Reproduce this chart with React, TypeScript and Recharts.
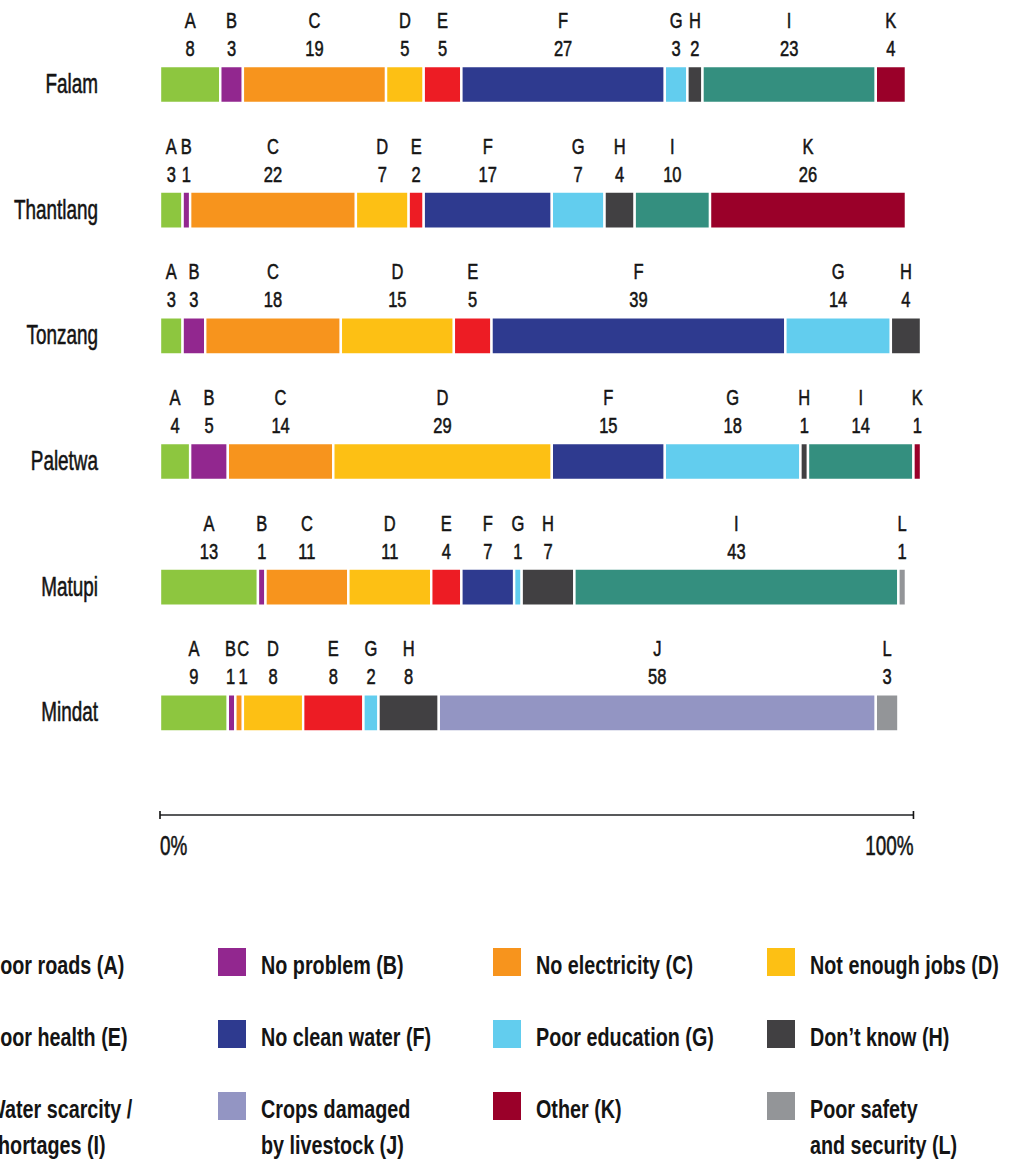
import { BarChart, Bar, XAxis, YAxis, LabelList } from 'recharts';

// --- data -------------------------------------------------------------
const DISTRICTS = ['Falam', 'Thantlang', 'Tonzang', 'Paletwa', 'Matupi', 'Mindat'];
const KEYS = ['A', 'B', 'C', 'D', 'E', 'F', 'G', 'H', 'I', 'J', 'K', 'L'];

// value per district, in DISTRICTS order (null = not mentioned)
const A = [8, 3, 3, 4, 13, 9];
const B = [3, 1, 3, 5, 1, 1];
const C = [19, 22, 18, 14, 11, 1];
const D = [5, 7, 15, 29, 11, 8];
const E = [5, 2, 5, null, 4, 8];
const F = [27, 17, 39, 15, 7, null];
const G = [3, 7, 14, 18, 1, 2];
const H = [2, 4, 4, 1, 7, 8];
const I = [23, 10, null, 14, 43, null];
const J = [null, null, null, null, null, 58];
const K = [4, 26, null, 1, null, null];
const L = [null, null, null, null, 1, 3];

const SERIES: Record<string, (number | null)[]> = { A, B, C, D, E, F, G, H, I, J, K, L };

const COLORS: Record<string, string> = {
  A: '#8dc63f', B: '#92278f', C: '#f7941d', D: '#fdc014',
  E: '#ed1c24', F: '#2e3a8f', G: '#62cdee', H: '#414042',
  I: '#348f7f', J: '#9395c3', K: '#9a0029', L: '#939598',
};

const LEGEND_LABELS: Record<string, string[]> = {
  A: ['Poor roads (A)'],
  B: ['No problem (B)'],
  C: ['No electricity (C)'],
  D: ['Not enough jobs (D)'],
  E: ['Poor health (E)'],
  F: ['No clean water (F)'],
  G: ['Poor education (G)'],
  H: ['Don\u2019t know (H)'],
  I: ['Water scarcity /', 'shortages (I)'],
  J: ['Crops damaged', 'by livestock (J)'],
  K: ['Other (K)'],
  L: ['Poor safety', 'and security (L)'],
};

const AXIS_TICKS = [0, 100];
const X_MAX = 101;

// --- layout -----------------------------------------------------------
const W = 1009;
const CHART_H = 880;
const MARGIN = { top: 22, right: 88, bottom: 15, left: 20 };
const Y_AXIS_W = 140;
const X_TICK_MARGIN = 20;
const FONT = "'Liberation Sans', Arial, sans-serif";
const INK = '#141414';

// labels on very thin neighbouring segments are pushed apart a little
const LABEL_NUDGE: Record<string, number> = { 'Mindat:B': -1, 'Mindat:C': 4 };

const rows = DISTRICTS.map((district, i) => {
  const row: Record<string, string | number | null> = { district };
  KEYS.forEach((k) => { row[k] = SERIES[k][i]; });
  return row;
});

const plotW = W - MARGIN.left - Y_AXIS_W - MARGIN.right;
const axisDash = `${(plotW * 100) / X_MAX} ${W}`;

// condensed look: squeeze Liberation Sans horizontally around its anchor,
// with a hairline stroke to get closer to the medium weight of the original
function NarrowText({ x, y, size, sx, anchor, children }: {
  x: number; y: number; size: number; sx: number; anchor: 'start' | 'middle' | 'end'; children: React.ReactNode;
}) {
  return (
    <text
      transform={`translate(${x} ${y}) scale(${sx} 1)`}
      textAnchor={anchor}
      fill={INK}
      stroke={INK}
      strokeWidth={0.55}
      fontFamily={FONT}
      fontSize={size}
    >
      {children}
    </text>
  );
}

// eslint-disable-next-line @typescript-eslint/no-explicit-any
function DistrictTick({ x, y, payload }: any) {
  return <NarrowText x={x} y={y + 8} size={27} sx={0.7} anchor="end">{payload.value}</NarrowText>;
}

// eslint-disable-next-line @typescript-eslint/no-explicit-any
function PercentTick({ x, y, payload }: any) {
  const axisY = y - X_TICK_MARGIN;
  return (
    <g>
      <line x1={x} x2={x} y1={axisY - 4} y2={axisY + 4} stroke="#111" strokeWidth={1.6} />
      <NarrowText x={x} y={axisY + 40} size={27} sx={0.7} anchor={payload.value === 0 ? 'start' : 'end'}>
        {payload.value}%
      </NarrowText>
    </g>
  );
}

const makeLabel = (key: string) =>
  // eslint-disable-next-line @typescript-eslint/no-explicit-any
  (props: any) => {
    const { value, index } = props;
    if (value == null || value === 0) return null;
    const x = props.x ?? props.viewBox?.x;
    const y = props.y ?? props.viewBox?.y;
    const w = props.width ?? props.viewBox?.width;
    const nudge = LABEL_NUDGE[`${DISTRICTS[index]}:${key}`] ?? 0;
    const cx = x + w / 2 + nudge;
    return (
      <g>
        <NarrowText x={cx} y={y - 38} size={22} sx={0.75} anchor="middle">{key}</NarrowText>
        <NarrowText x={cx} y={y - 10} size={22} sx={0.75} anchor="middle">{value}</NarrowText>
      </g>
    );
  };

function LegendBlock() {
  return (
    <>
      {KEYS.map((k, i) => {
        const col = i % 4;
        const row = Math.floor(i / 4);
        const left = -56 + col * 274.3;
        const top = 948 + row * 72;
        return (
          <div key={k} style={{ position: 'absolute', left, top }}>
            <div style={{ position: 'absolute', left: 0, top: 0, width: 28, height: 28, background: COLORS[k] }} />
            <div
              style={{
                position: 'absolute', left: 43, top: -1, whiteSpace: 'nowrap',
                fontFamily: FONT, fontWeight: 700, fontSize: 26, lineHeight: '36px', color: INK,
                transform: 'scaleX(0.76)', transformOrigin: 'left top',
              }}
            >
              {LEGEND_LABELS[k].map((line) => <div key={line}>{line}</div>)}
            </div>
          </div>
        );
      })}
    </>
  );
}

export default function App() {
  return (
    <div style={{ position: 'absolute', left: 0, top: 0, width: W, height: 1160, overflow: 'hidden', background: '#fff' }}>
      <BarChart width={W} height={CHART_H} data={rows} layout="vertical" margin={MARGIN} barSize={37}>
        <XAxis
          type="number"
          domain={[0, X_MAX]}
          ticks={AXIS_TICKS}
          height={50}
          axisLine={{ stroke: '#58595b', strokeWidth: 2, strokeDasharray: axisDash }}
          tickLine={false}
          tickSize={0}
          tickMargin={X_TICK_MARGIN}
          tick={<PercentTick />}
          interval={0}
        />
        <YAxis
          type="category"
          dataKey="district"
          width={Y_AXIS_W}
          padding={{ top: 0, bottom: 39 }}
          axisLine={false}
          tickLine={false}
          tickSize={0}
          tickMargin={62}
          tick={<DistrictTick />}
          interval={0}
        />
        {KEYS.map((k) => (
          <Bar key={k} dataKey={k} stackId="s" fill={COLORS[k]} stroke="#fff" strokeWidth={2.4} isAnimationActive={false}>
            <LabelList dataKey={k} content={makeLabel(k)} />
          </Bar>
        ))}
      </BarChart>
      <LegendBlock />
    </div>
  );
}
